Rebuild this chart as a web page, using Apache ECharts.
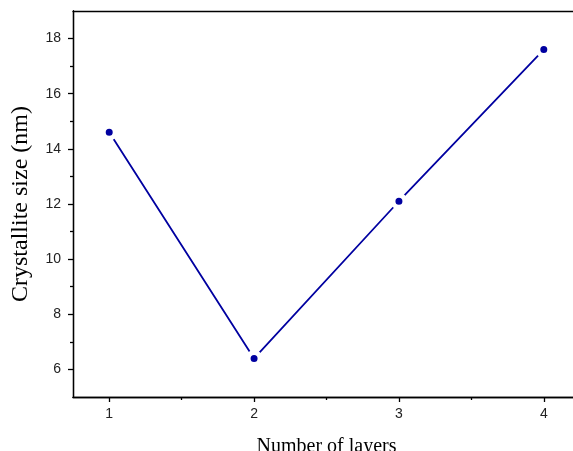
<!DOCTYPE html>
<html>
<head>
<meta charset="utf-8">
<script src="https://cdn.jsdelivr.net/npm/echarts@6/dist/echarts.min.js"></script>
<style>
  html, body { margin: 0; padding: 0; background: #fff; }
  #chart { width: 573px; height: 451px; }
</style>
</head>
<body>
<div id="chart"></div>
<script>
// Crystallite size against number of deposited layers
const layers = [1, 2, 3, 4];
const crystalliteSize = [14.6, 6.4, 12.1, 17.6];
const xMajorTicks = [1, 2, 3, 4];
const xMinorTicks = [1.5, 2.5, 3.5];
const yMajorTicks = [6, 8, 10, 12, 14, 16, 18];
const yMinorTicks = [7, 9, 11, 13, 15, 17];

const axisColor = '#000';
const lineColor = '#0000a0';

const chart = echarts.init(document.getElementById('chart'), null, { renderer: 'canvas' });

const baseX = {
  type: 'value', min: 0.75, max: 4.25,
  splitLine: { show: false },
  axisLine: { show: true, onZero: false, lineStyle: { color: axisColor, width: 1.3 } }
};
const baseY = {
  type: 'value', min: 5, max: 19,
  splitLine: { show: false },
  axisLine: { show: true, onZero: false, lineStyle: { color: axisColor, width: 1.3 } }
};

chart.setOption({
  animation: false,
  grid: { left: 73, top: 11, right: -7, bottom: 54, containLabel: false, outerBoundsMode: 'none' },
  xAxis: [
    Object.assign({}, baseX, {
      position: 'bottom',
      name: 'Number of layers',
      nameLocation: 'middle',
      nameGap: 40,
      nameTextStyle: { fontFamily: 'Liberation Serif', fontSize: 20, color: '#000' },
      axisTick: { show: true, inside: false, length: 5, customValues: xMajorTicks, lineStyle: { color: axisColor, width: 1.3 } },
      axisLabel: { show: true, margin: 10, customValues: xMajorTicks, fontFamily: 'Liberation Sans', fontSize: 14, color: '#222' }
    }),
    Object.assign({}, baseX, {
      position: 'bottom',
      axisTick: { show: true, inside: false, length: 3, customValues: xMinorTicks, lineStyle: { color: axisColor, width: 1.3 } },
      axisLabel: { show: false }
    }),
    Object.assign({}, baseX, {
      position: 'top',
      axisTick: { show: false },
      axisLabel: { show: false }
    })
  ],
  yAxis: [
    Object.assign({}, baseY, {
      position: 'left',
      name: 'Crystallite size (nm)',
      nameLocation: 'middle',
      nameGap: 40,
      nameTextStyle: { fontFamily: 'Liberation Serif', fontSize: 24, color: '#000' },
      axisTick: { show: true, inside: false, length: 5, customValues: yMajorTicks, lineStyle: { color: axisColor, width: 1.3 } },
      axisLabel: { show: true, margin: 12, customValues: yMajorTicks, fontFamily: 'Liberation Sans', fontSize: 14, color: '#222' }
    }),
    Object.assign({}, baseY, {
      position: 'left',
      axisTick: { show: true, inside: false, length: 3, customValues: yMinorTicks, lineStyle: { color: axisColor, width: 1.3 } },
      axisLabel: { show: false }
    })
  ],
  series: [{
    type: 'line',
    xAxisIndex: 0,
    yAxisIndex: 0,
    data: layers.map((l, i) => [l, crystalliteSize[i]]),
    lineStyle: { color: lineColor, width: 1.8 },
    symbol: 'circle',
    symbolSize: 12,
    itemStyle: { color: lineColor, borderColor: '#fff', borderWidth: 5 },
    z: 3
  }]
});
</script>
</body>
</html>
